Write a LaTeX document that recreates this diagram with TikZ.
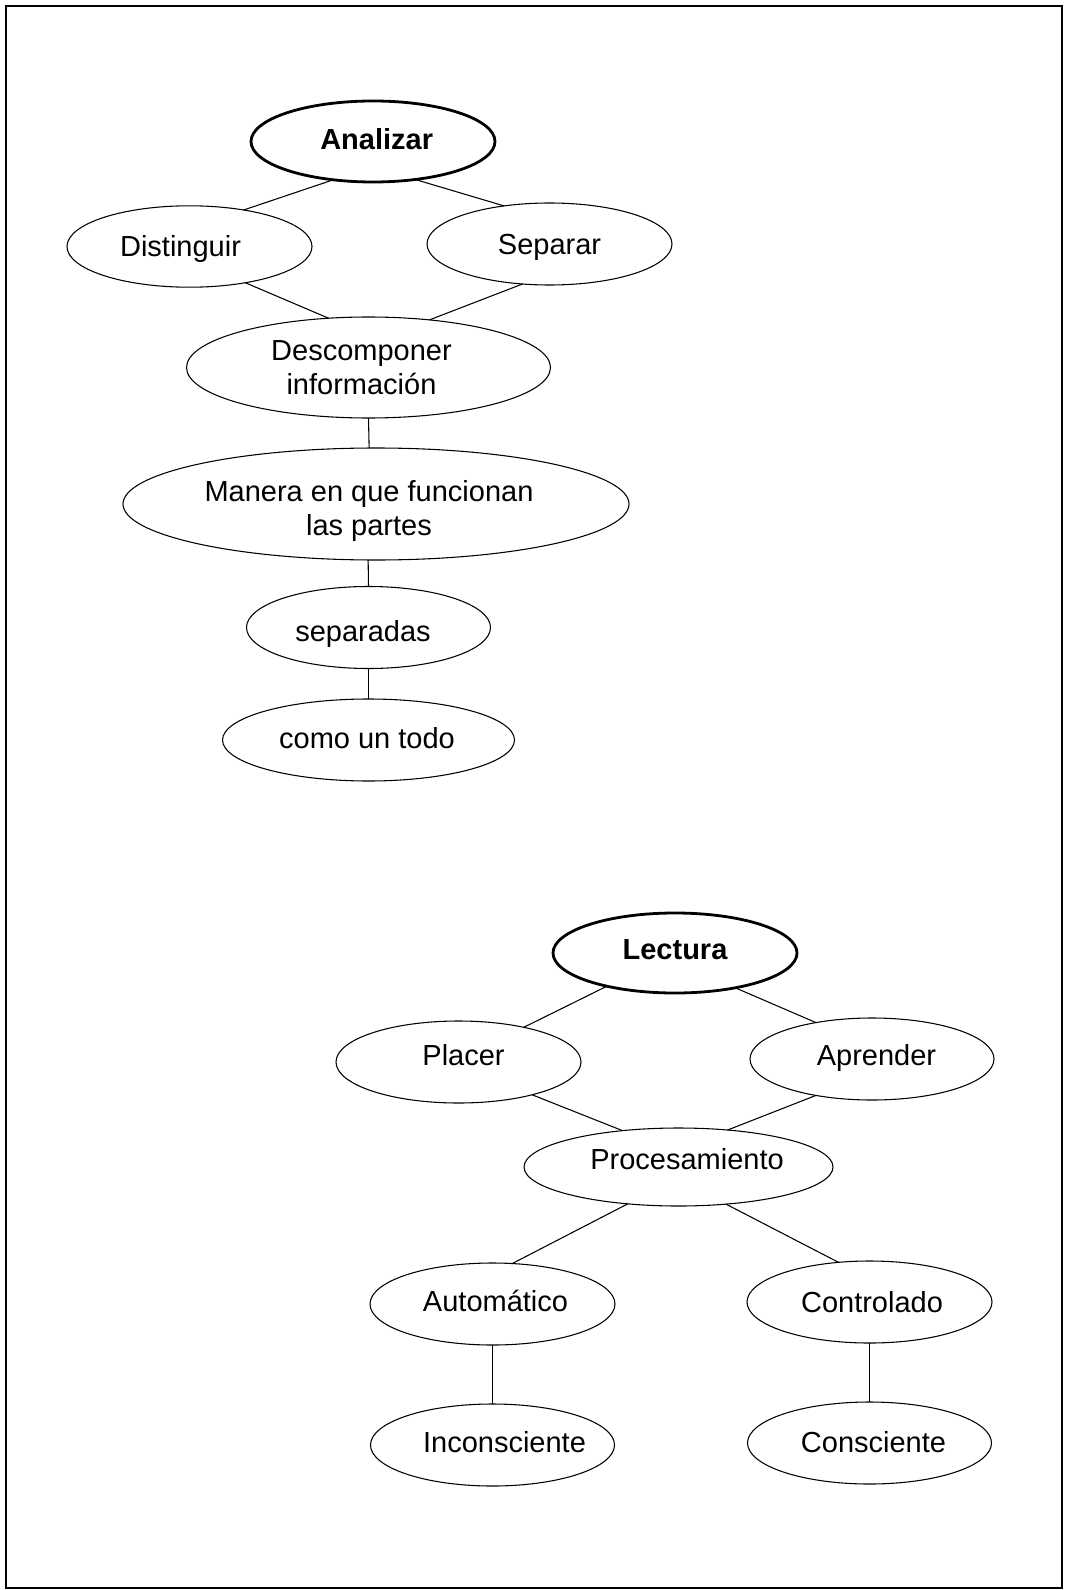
\documentclass[tikz,border=0pt]{standalone}
\usepackage{fontspec}
\setmainfont{Liberation Sans}
\usetikzlibrary{shapes.geometric}

% centred label with a horizontal (doubled) and vertical nudge
\newcommand{\ovaltext}[3]{\makebox[0pt]{\hspace*{#1}\raisebox{#2}{#3}}}

\tikzset{
  oval/.style={ellipse, draw, line width=0.8pt, inner sep=0pt, outer sep=0pt,
    text height=15.6pt, text depth=0pt,
    font=\fontsize{21.75pt}{25.5pt}\selectfont},
  head/.style={oval, line width=2.1pt, font=\fontsize{21.75pt}{25.5pt}\selectfont\bfseries},
  radii/.style 2 args={minimum width=#1*1.5pt, minimum height=#2*1.5pt},
  link/.style={line width=0.8pt},
  frame/.style={line width=1.1pt}
}

\begin{document}
\begin{tikzpicture}[x=0.75pt, y=-0.75pt]
  \useasboundingbox (0,0) rectangle (1064,1590);
  \draw[frame] (6,6) rectangle (1062,1588);

  % Analizar
  \node[head, radii={122}{40.5}] (ana) at (373,141.5) {\ovaltext{5.5pt}{1.5pt}{Analizar}};
  \node[oval, radii={122.5}{40.7}] (dis) at (189.5,246.5) {\ovaltext{-13.5pt}{0pt}{Distinguir}};
  \node[oval, radii={122.5}{41}] (sep) at (549.5,244) {\ovaltext{0pt}{0pt}{Separar}};
  \node[oval, radii={182}{50.5}] (des) at (368.5,367.5)
    {\ovaltext{-10.5pt}{0.3pt}{\begin{tabular}{@{}c@{}}Descomponer\\información\end{tabular}}};
  \node[oval, radii={253}{56}] (man) at (376,504)
    {\ovaltext{-10.5pt}{-2.8pt}{\begin{tabular}{@{}c@{}}Manera en que funcionan\\las partes\end{tabular}}};
  \node[oval, radii={122}{41}] (spd) at (368.5,627.5) {\ovaltext{-8.25pt}{-2.6pt}{separadas}};
  \node[oval, radii={146}{41}] (tod) at (368.5,740) {\ovaltext{-2.25pt}{1.8pt}{como un todo}};

  \draw[link] (ana.224) -- (dis.34.3);
  \draw[link] (ana.318) -- (sep.140.7);
  \draw[link] (dis.327) -- (des.129.7);
  \draw[link] (sep.236) -- (des.38.5);
  \draw[link] (des.270) -- (man.97.6);
  \draw[link] (man.262.4) -- (spd.90);
  \draw[link] (spd.270) -- (tod.90);

  % Lectura
  \node[head, radii={122}{40}] (lec) at (675,953) {\ovaltext{0pt}{3pt}{Lectura}};
  \node[oval, radii={122.5}{41}] (pla) at (458.5,1062) {\ovaltext{7.5pt}{5.25pt}{Placer}};
  \node[oval, radii={122}{41}] (apr) at (872,1059) {\ovaltext{6.75pt}{2.6pt}{Aprender}};
  \node[oval, radii={154.5}{39}] (pro) at (678.5,1167) {\ovaltext{12.75pt}{5.6pt}{Procesamiento}};
  \node[oval, radii={122.5}{41}] (aut) at (492.5,1304) {\ovaltext{4.5pt}{1.9pt}{Automático}};
  \node[oval, radii={122.5}{41}] (con) at (869.5,1302) {\ovaltext{3.75pt}{0pt}{Controlado}};
  \node[oval, radii={122}{41}] (inc) at (492.5,1445) {\ovaltext{18pt}{2.25pt}{Inconsciente}};
  \node[oval, radii={122}{41}] (cns) at (869.5,1443) {\ovaltext{6pt}{0.75pt}{Consciente}};

  \draw[link] (lec.206.2) -- (pla.28.5);
  \draw[link] (lec.330.9) -- (apr.147.5);
  \draw[link] (pla.336.1) -- (pro.147.7);
  \draw[link] (apr.213) -- (pro.37);
  \draw[link] (pro.216.8) -- (aut.64);
  \draw[link] (pro.322.7) -- (con.128.8);
  \draw[link] (aut.270) -- (inc.90);
  \draw[link] (con.270) -- (cns.90);
\end{tikzpicture}
\end{document}
